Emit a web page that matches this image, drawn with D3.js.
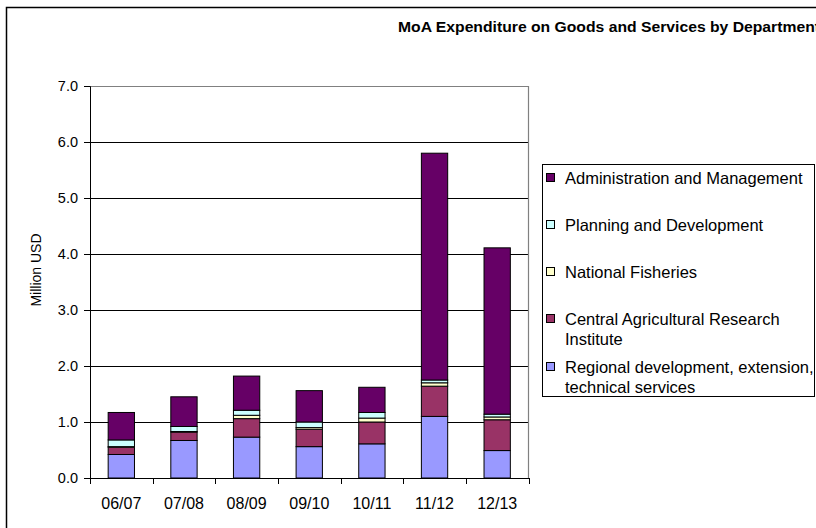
<!DOCTYPE html>
<html>
<head>
<meta charset="utf-8">
<script src="https://cdn.jsdelivr.net/npm/d3@7/dist/d3.min.js"></script>
<style>
  html, body { margin: 0; padding: 0; background: #fff; }
  svg { display: block; font-family: Arial, "Liberation Sans", sans-serif; }
</style>
</head>
<body>
<svg id="chart" width="816" height="528"></svg>
<script>
// Fiscal years
const years = ["06/07", "07/08", "08/09", "09/10", "10/11", "11/12", "12/13"];

// Expenditure by department, million USD (stacked bottom to top)
const regional   = [0.42, 0.67, 0.73, 0.56, 0.61, 1.10, 0.49];
const central    = [0.13, 0.15, 0.33, 0.31, 0.39, 0.54, 0.55];
const fisheries  = [0.01, 0.01, 0.06, 0.03, 0.07, 0.06, 0.05];
const planning   = [0.12, 0.09, 0.09, 0.10, 0.10, 0.05, 0.05];
const admin      = [0.49, 0.53, 0.61, 0.56, 0.45, 4.05, 2.97];

const yTicks = [0, 1, 2, 3, 4, 5, 6, 7];

const seriesKeys = ["regional", "central", "fisheries", "planning", "admin"];
const seriesNames = {
  regional: ["Regional development, extension,", "technical services"],
  central: ["Central Agricultural Research", "Institute"],
  fisheries: ["National Fisheries"],
  planning: ["Planning and Development"],
  admin: ["Administration and Management"]
};
const seriesColors = {
  regional: "#9999FF",
  central: "#993366",
  fisheries: "#FFFFCC",
  planning: "#CCFFFF",
  admin: "#660066"
};

const rows = years.map((y, i) => ({
  year: y,
  regional: regional[i],
  central: central[i],
  fisheries: fisheries[i],
  planning: planning[i],
  admin: admin[i]
}));

const svg = d3.select("#chart");

// Outer chart frame
svg.append("rect")
  .attr("x", 6.5).attr("y", 7.5)
  .attr("width", 840).attr("height", 560)
  .attr("fill", "#fff")
  .attr("stroke", "#000").attr("stroke-width", 1.5);

// Title
svg.append("text")
  .attr("x", 398).attr("y", 32)
  .attr("font-size", 15).attr("font-weight", "bold")
  .attr("textLength", 422).attr("lengthAdjust", "spacingAndGlyphs")
  .text("MoA Expenditure on Goods and Services by Department");

const plot = { left: 90, right: 528.5, top: 86, bottom: 478 };

const x = d3.scaleBand().domain(years).range([plot.left, plot.right]).padding(0);
const y = d3.scaleLinear().domain([0, 7]).range([plot.bottom, plot.top]);

// Horizontal gridlines
svg.append("g").selectAll("line")
  .data(yTicks.filter(t => t > 0 && t < 7))
  .join("line")
  .attr("x1", plot.left).attr("x2", plot.right)
  .attr("y1", d => Math.round(y(d)) + 0.5).attr("y2", d => Math.round(y(d)) + 0.5)
  .attr("stroke", "#000").attr("stroke-width", 1);

// Plot area border (top and right)
svg.append("path")
  .attr("d", `M${plot.left},${y(7) + 0.5}H${plot.right}V${plot.bottom}`)
  .attr("fill", "none").attr("stroke", "#808080").attr("stroke-width", 1.2);

// Stacked bars
const stack = d3.stack().keys(seriesKeys)(rows);
const barW = x.bandwidth() * 0.42;

svg.append("g").selectAll("g")
  .data(stack)
  .join("g")
  .attr("fill", d => seriesColors[d.key])
  .selectAll("rect")
  .data(d => d)
  .join("rect")
  .attr("x", d => x(d.data.year) + (x.bandwidth() - barW) / 2)
  .attr("width", barW)
  .attr("y", d => y(d[1]))
  .attr("height", d => y(d[0]) - y(d[1]))
  .attr("stroke", "#000").attr("stroke-width", 1);

// Y axis
const yAxis = svg.append("g")
  .attr("transform", `translate(${plot.left},0)`)
  .call(d3.axisLeft(y).tickValues(yTicks).tickFormat(d3.format(".1f")).tickSize(6).tickPadding(6));
yAxis.select(".domain").attr("stroke", "#000");
yAxis.selectAll(".tick line").attr("stroke", "#000");
yAxis.selectAll("text").attr("font-size", 14.5).attr("fill", "#000")
  .attr("font-family", "Arial, 'Liberation Sans', sans-serif");

// X axis: category labels centred in each band, ticks at band edges
const xAxis = svg.append("g")
  .attr("transform", `translate(0,${plot.bottom})`)
  .call(d3.axisBottom(x).tickSize(0).tickPadding(20));
xAxis.select(".domain").attr("stroke", "#000");
xAxis.selectAll("text").attr("font-size", 16).attr("fill", "#000")
  .attr("font-family", "Arial, 'Liberation Sans', sans-serif");

const edges = years.map(d => x(d)).concat([x.range()[1]]);
svg.append("g").selectAll("line")
  .data(edges)
  .join("line")
  .attr("x1", d => Math.round(d) + 0.5).attr("x2", d => Math.round(d) + 0.5)
  .attr("y1", plot.bottom).attr("y2", plot.bottom + 6)
  .attr("stroke", "#000");

// Y axis title
svg.append("text")
  .attr("transform", `translate(41,270) rotate(-90)`)
  .attr("text-anchor", "middle")
  .attr("font-size", 14)
  .text("Million USD");

// Legend
const legend = svg.append("g");
legend.append("rect")
  .attr("x", 542.5).attr("y", 164.5)
  .attr("width", 272).attr("height", 232)
  .attr("fill", "#fff").attr("stroke", "#000").attr("stroke-width", 1);

const legendOrder = ["admin", "planning", "fisheries", "central", "regional"];
const legendY = [178, 225, 272, 319, 367];

legendOrder.forEach((key, i) => {
  const cy = legendY[i];
  legend.append("rect")
    .attr("x", 546.5).attr("y", cy - 4.5)
    .attr("width", 8).attr("height", 8)
    .attr("fill", seriesColors[key]).attr("stroke", "#000").attr("stroke-width", 1);
  seriesNames[key].forEach((line, j) => {
    legend.append("text")
      .attr("x", 565).attr("y", cy + j * 20)
      .attr("dy", "0.35em")
      .attr("font-size", 16.5)
      .text(line);
  });
});
</script>
</body>
</html>
